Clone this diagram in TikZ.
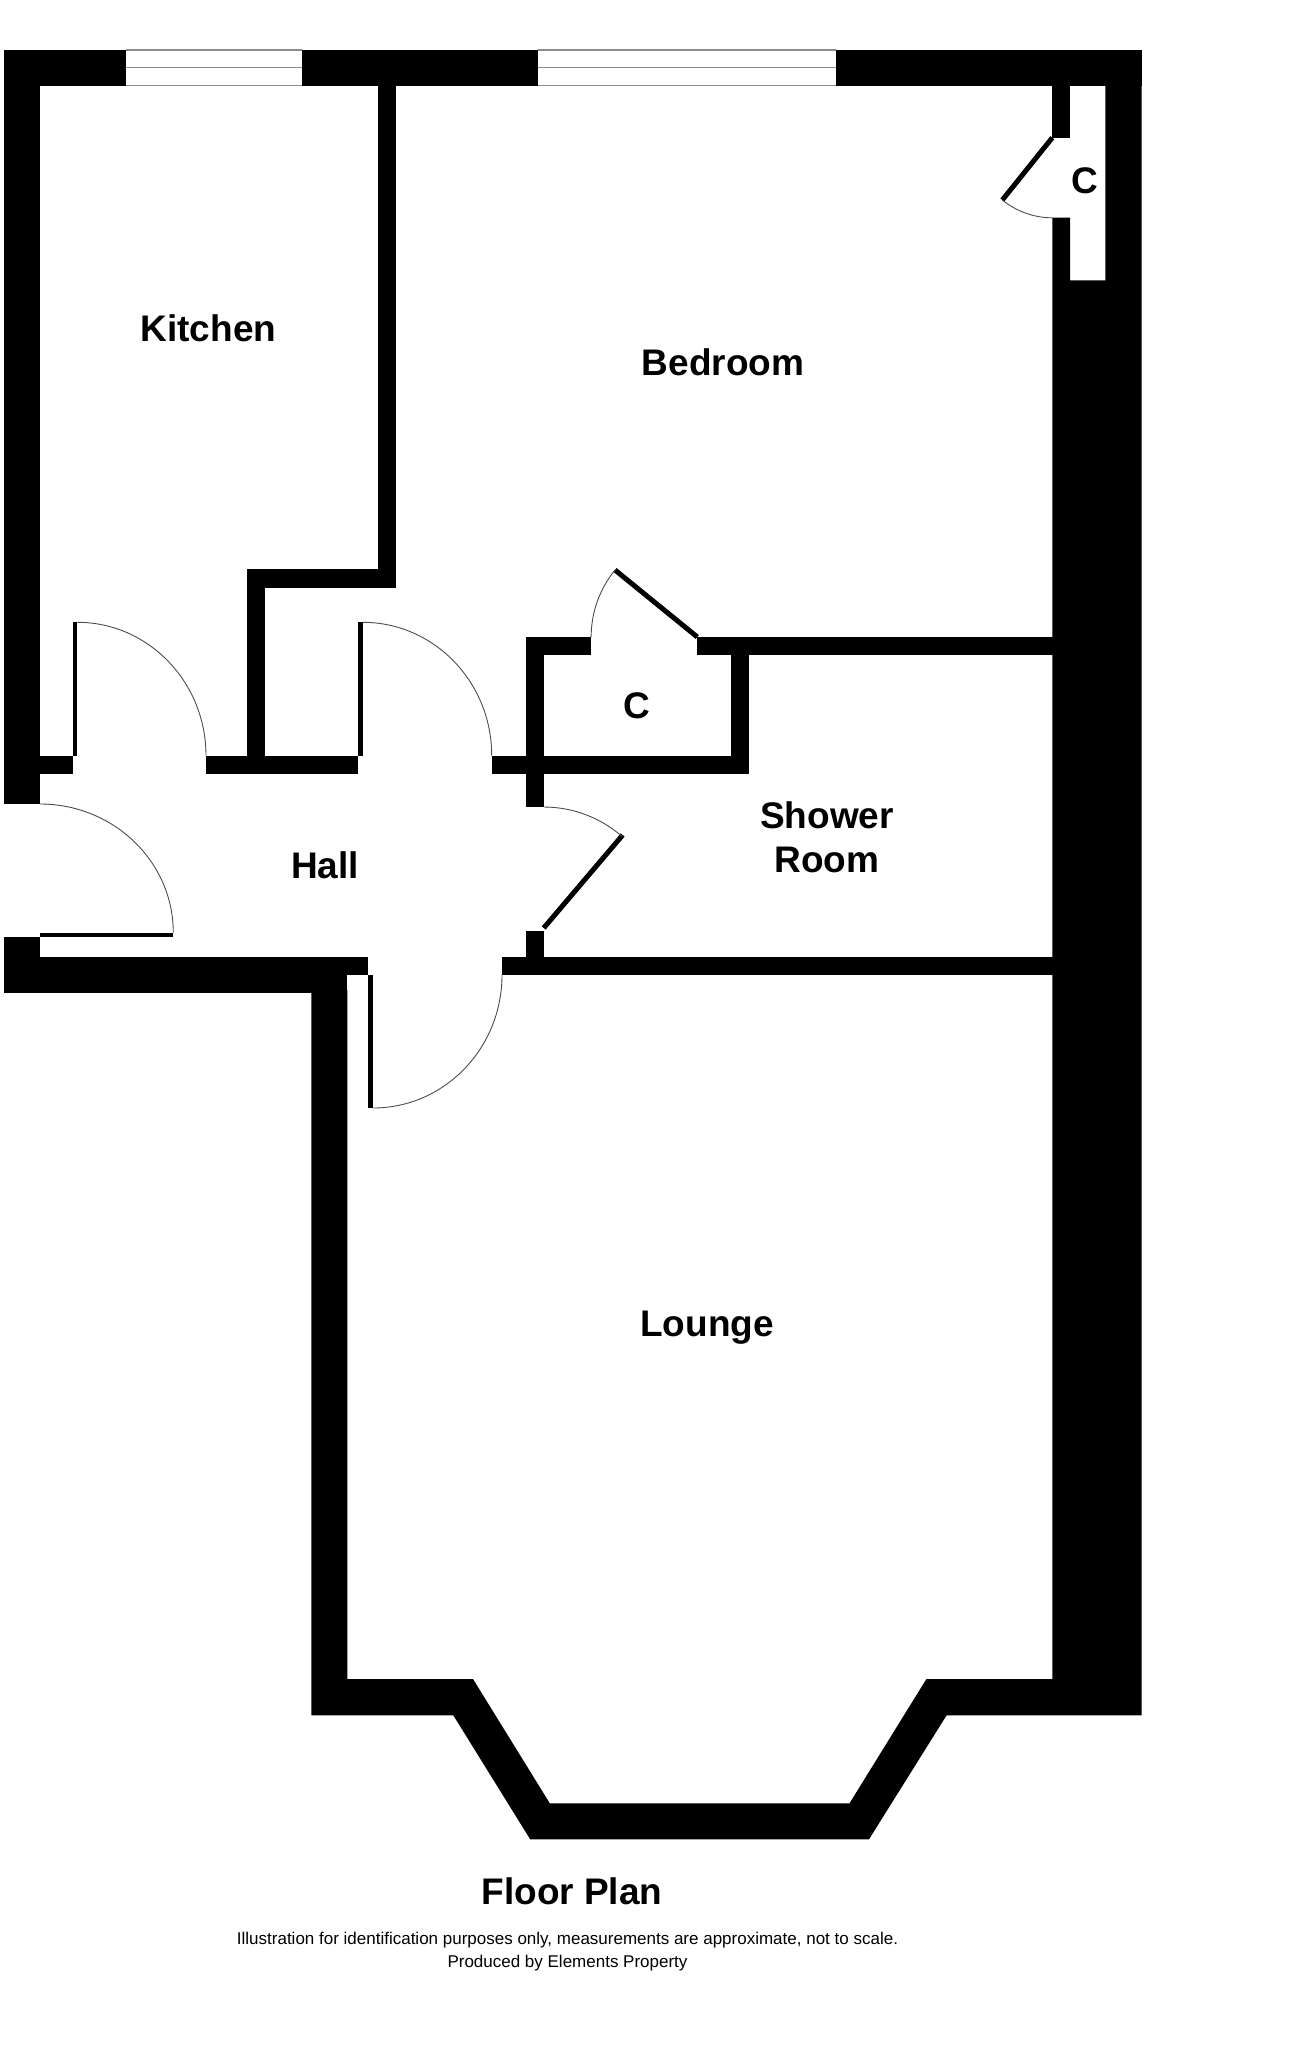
\documentclass[tikz,border=0pt]{standalone}
\usepackage{fontspec}
\setmainfont{Liberation Sans}
\tikzset{
    wall/.style={fill=black},
    glass/.style={draw=black!45, line width=1.2pt},
    leaf/.style={draw=black, line width=5pt},
    swing/.style={draw=black!70, line width=0.9pt},
    room/.style={inner sep=0pt, align=center, font=\bfseries\fontsize{37}{44}\selectfont},
    note/.style={inner sep=0pt, font=\fontsize{17}{20}\selectfont},
}

\begin{document}
\begin{tikzpicture}[x=1pt, y=-1pt]

    \useasboundingbox (0,0) rectangle (1293,2048);

    \foreach \xA/\yA/\xB/\yB in {
        4/49.5/126/85.7, 302/49.5/538/85.7, 836/49.5/1141.5/85.7,
        4/49.5/40/804, 40/755.7/73/773.7, 378/85/396/587.7,
        246.7/569.3/396/587.7, 246.7/569.3/265/773.7, 206/755.7/358.3/773.7,
        491.7/755.5/749/773.8, 525.7/637/543.7/807, 525.7/637/591/655.4,
        697.3/637/1052.5/655.4, 730.7/637/749/773.8,
        525.7/931/543.7/975, 501.7/957/1052.5/975.4,
        4/937/40/992.7, 40/956.7/368.3/975, 4/975/347.3/992.7,
        1052.3/85/1070/137.7,
        72.7/622.3/77.3/755.7, 358/622.3/362.7/755.7,
        40/932.7/173.3/937, 368.3/975/373/1108}{
        \fill[wall] (\xA,\yA) rectangle (\xB,\yB);
    }

    \fill[wall] (311.3,990) -- (347.3,990) -- (347.3,1679) -- (473,1679)
        -- (549.8,1803.3) -- (849.5,1803.3) -- (926.4,1679) -- (1052.3,1679)
        -- (1052.3,217.7) -- (1070,217.7) -- (1070,280.3) -- (1105.3,280.3)
        -- (1105.3,85) -- (1141.5,85) -- (1141.5,1715.3) -- (946.6,1715.3)
        -- (869,1839.3) -- (530.2,1839.3) -- (453.3,1715.3) -- (311.3,1715.3)
        -- cycle;

    \foreach \xA/\xB in {126/302, 538/836}{
        \foreach \Y in {50, 67.7, 85.5}{
            \draw[glass] (\xA,\Y) -- (\xB,\Y);
        }
    }

    \draw[leaf] (1052.3,137.7) -- (1002.3,200);
    \draw[leaf] (697.3,637) -- (615,570);
    \draw[leaf] (543.7,928) -- (622.7,835);

    \draw[swing] (77.3,622.3) arc[start angle=90, end angle=0, x radius=128.7pt, y radius=133.4pt];
    \draw[swing] (362.7,622.3) arc[start angle=90, end angle=0, x radius=129pt, y radius=133.2pt];
    \draw[swing] (40,804) arc[start angle=90, end angle=0, x radius=133.3pt, y radius=128.7pt];
    \draw[swing] (373,1108) arc[start angle=270, end angle=360, x radius=129pt, y radius=133pt];
    \draw[swing] (543.7,807) arc[start angle=90, end angle=48.7, radius=119pt];
    \draw[swing] (615,570) arc[start angle=140.8, end angle=180, radius=106pt];
    \draw[swing] (1002.3,200) arc[start angle=231, end angle=270, radius=80pt];

    \node[room] (kitchen) at (208.5,328) {Kitchen};
    \node[room] (bedroom) at (723,362) {Bedroom};
    \node[room] (cupboardA) at (1085,181) {C};
    \node[room] (cupboardB) at (637,706) {C};
    \node[room] (shower) at (827,837) {Shower\\Room};
    \node[room] (hall) at (325,865) {Hall};
    \node[room] (lounge) at (707,1328) {Lounge};
    \node[room] (title) at (572,1891) {Floor Plan};
    \node[note] (noteA) at (567.5,1940.5) {Illustration for identification purposes only, measurements are approximate, not to scale.};
    \node[note] (noteB) at (567.5,1963) {Produced by Elements Property};

\end{tikzpicture}
\end{document}
